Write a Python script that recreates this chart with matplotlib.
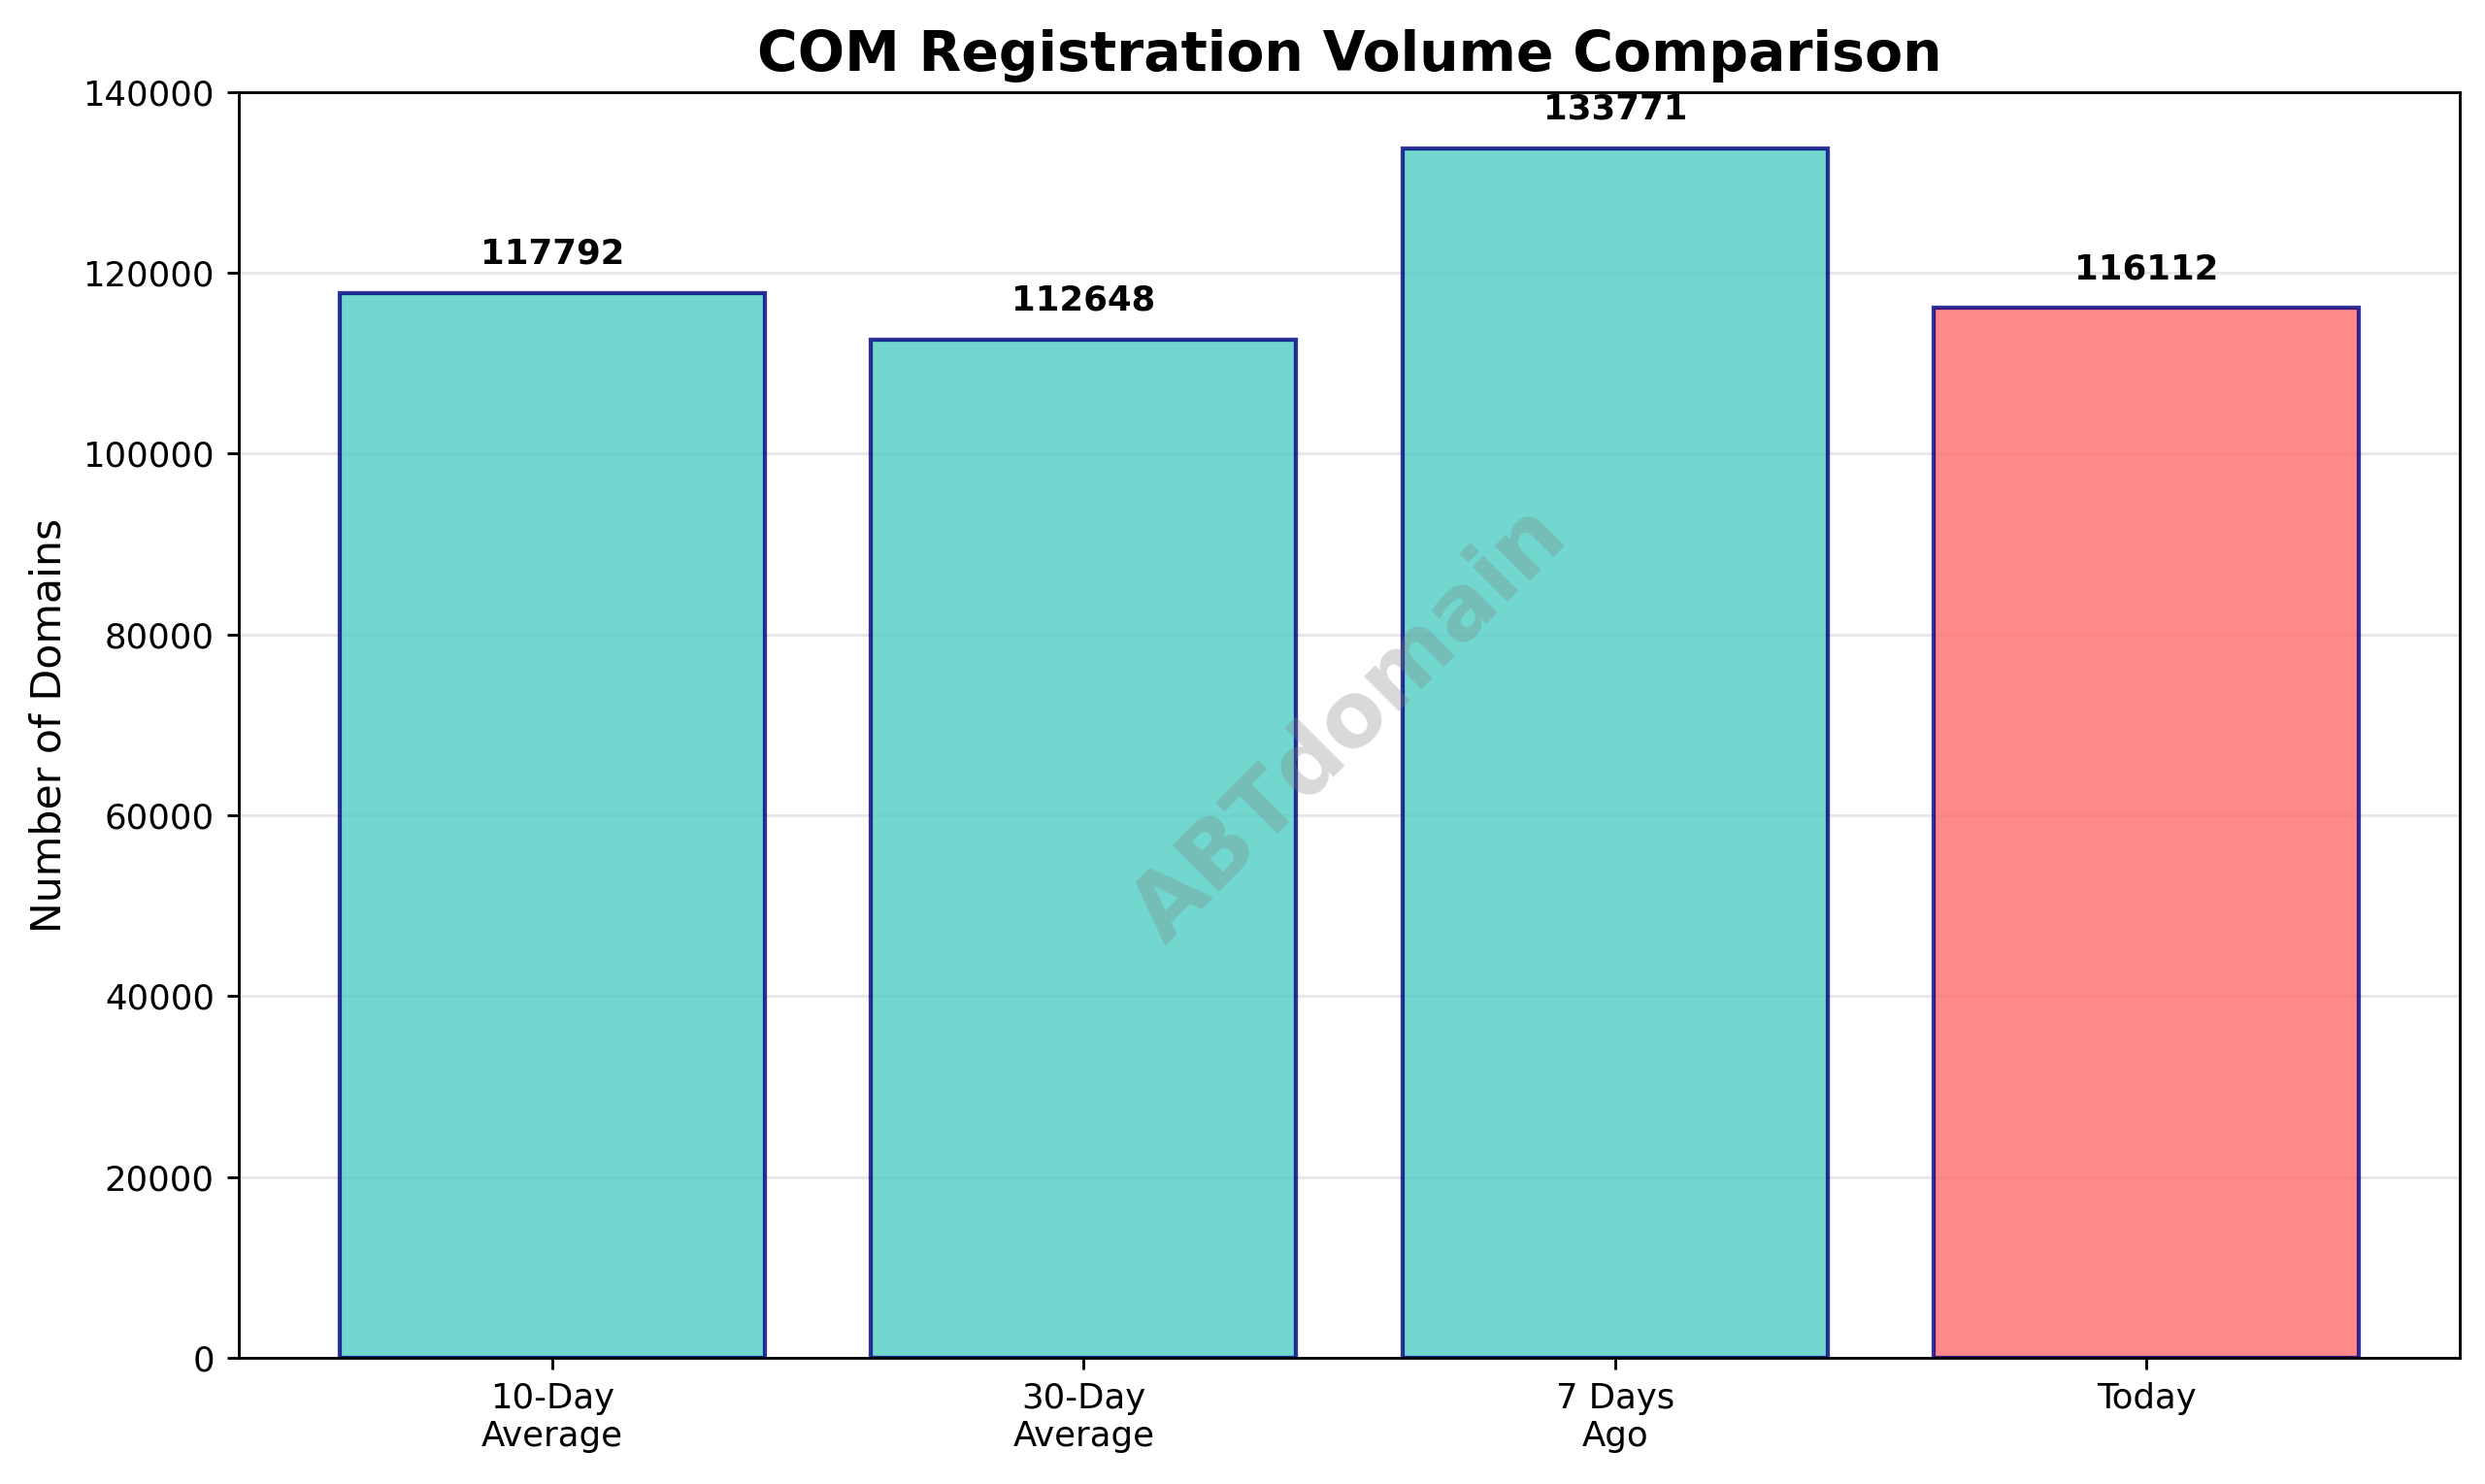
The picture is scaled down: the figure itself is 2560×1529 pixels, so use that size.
import matplotlib
matplotlib.use('Agg')
import matplotlib.pyplot as plt

categories = ['10-Day\nAverage', '30-Day\nAverage', '7 Days\nAgo', 'Today']
values = [117792, 112648, 133771, 116112]
colors = ['#4ECDC4', '#4ECDC4', '#4ECDC4', '#FF6B6B']

fig = plt.figure(figsize=(2560 / 256, 1529 / 256), dpi=256)
ax = fig.add_axes([0.096, 0.085, 0.894, 0.853])

bars = ax.bar(categories, values, color=colors, alpha=0.8, edgecolor='navy', linewidth=1.2)
for b, v in zip(bars, values):
    ax.text(b.get_x() + b.get_width() / 2, v + 2500, str(v), ha='center', va='bottom',
            fontsize=10, fontweight='bold')

ax.set_ylim(0, 140000)
ax.set_ylabel('Number of Domains', fontsize=12)
ax.set_title('COM Registration Volume Comparison', fontsize=16, fontweight='bold')
ax.grid(axis='y', alpha=0.3)
ax.set_axisbelow(True)
ax.tick_params(labelsize=10)

ax.text(0.5, 0.5, 'ABTdomain', transform=ax.transAxes, fontsize=26, color='gray',
        alpha=0.3, rotation=45, ha='center', va='center', fontweight='bold')

fig.savefig('out.png', dpi=256)
